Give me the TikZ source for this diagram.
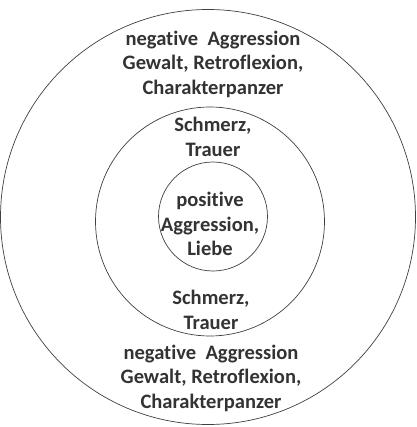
\documentclass[tikz,border=0pt]{standalone}
\usepackage{fontspec}
\setmainfont[Ligatures=NoCommon]{Carlito}
\usepackage{tikz}
\usetikzlibrary{positioning}

\tikzset{
  ring/.style={draw=black!75, line width=0.5pt},
  lbl/.style={align=center, font=\bfseries\fontsize{14.6}{17.4}\selectfont, text=black!80, inner sep=0pt}
}

\begin{document}
\begin{tikzpicture}[x=0.025cm,y=-0.025cm]
\useasboundingbox (0,0) rectangle (416,427);
% rings
\draw[ring] (208,217) circle[radius=207.5];
\draw[ring] (210,221.5) circle[radius=114.5];
\draw[ring] (213,216.5) circle[radius=54.5];
% outer ring texts
\node[lbl] (negtop) at (213,64) {negative\ \ Aggression\\Gewalt, Retroflexion,\\Charakterpanzer};
\node[lbl] (negbot) at (211,378) {negative\ \ Aggression\\Gewalt, Retroflexion,\\Charakterpanzer};
% middle ring texts
\node[lbl] (schtop) at (213,137) {Schmerz,\\Trauer};
\node[lbl] (schbot) at (211,310) {Schmerz,\\Trauer};
% centre
\node[lbl] (pos) at (210,224) {positive\\Aggression,\\Liebe};
\end{tikzpicture}
\end{document}
